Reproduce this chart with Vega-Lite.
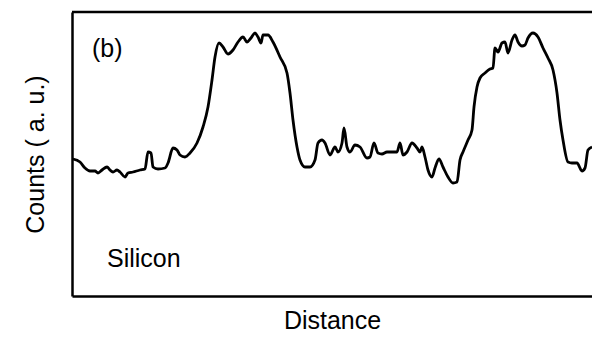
{
  "$schema": "https://vega.github.io/schema/vega-lite/v6.json",
  "width": 520,
  "height": 284,
  "autosize": {"type": "none"},
  "padding": {"left": 72, "top": 12, "right": 0, "bottom": 41},
  "config": {
    "view": {"stroke": null},
    "axis": {
      "domain": true, "domainColor": "black", "domainWidth": 2.5,
      "ticks": false, "labels": false, "grid": false,
      "titleFont": "Liberation Sans", "titleFontWeight": "normal", "titleColor": "black", "titleFontSize": 25
    }
  },
  "layer": [
    {
      "data": {"values": [
        {"distance": 1, "counts": 137}, {"distance": 8, "counts": 134}, {"distance": 13, "counts": 128},
        {"distance": 18, "counts": 125}, {"distance": 23, "counts": 125}, {"distance": 26, "counts": 123},
        {"distance": 30, "counts": 126}, {"distance": 35, "counts": 129}, {"distance": 38, "counts": 126},
        {"distance": 41, "counts": 124}, {"distance": 45, "counts": 126}, {"distance": 48, "counts": 124},
        {"distance": 53, "counts": 119}, {"distance": 56, "counts": 123}, {"distance": 61, "counts": 124},
        {"distance": 68, "counts": 126}, {"distance": 73, "counts": 127}, {"distance": 76, "counts": 144},
        {"distance": 79, "counts": 143}, {"distance": 81, "counts": 129}, {"distance": 86, "counts": 127},
        {"distance": 93, "counts": 128}, {"distance": 96, "counts": 133}, {"distance": 101, "counts": 148},
        {"distance": 105, "counts": 146}, {"distance": 108, "counts": 141}, {"distance": 113, "counts": 139},
        {"distance": 118, "counts": 143}, {"distance": 125, "counts": 153}, {"distance": 131, "counts": 169},
        {"distance": 136, "counts": 189}, {"distance": 140, "counts": 216}, {"distance": 143, "counts": 239},
        {"distance": 147, "counts": 253}, {"distance": 151, "counts": 249}, {"distance": 156, "counts": 242},
        {"distance": 161, "counts": 246}, {"distance": 166, "counts": 254}, {"distance": 171, "counts": 259},
        {"distance": 175, "counts": 254}, {"distance": 179, "counts": 258}, {"distance": 183, "counts": 263},
        {"distance": 186, "counts": 259}, {"distance": 189, "counts": 253}, {"distance": 191, "counts": 261},
        {"distance": 196, "counts": 261}, {"distance": 201, "counts": 254}, {"distance": 208, "counts": 239},
        {"distance": 215, "counts": 223}, {"distance": 218, "counts": 203}, {"distance": 221, "counts": 176},
        {"distance": 225, "counts": 149}, {"distance": 228, "counts": 136}, {"distance": 233, "counts": 129},
        {"distance": 238, "counts": 129}, {"distance": 243, "counts": 136}, {"distance": 246, "counts": 153},
        {"distance": 250, "counts": 156}, {"distance": 253, "counts": 153}, {"distance": 258, "counts": 141},
        {"distance": 263, "counts": 149}, {"distance": 266, "counts": 144}, {"distance": 270, "counts": 153},
        {"distance": 272, "counts": 168}, {"distance": 275, "counts": 149}, {"distance": 278, "counts": 144},
        {"distance": 283, "counts": 151}, {"distance": 288, "counts": 149}, {"distance": 295, "counts": 138},
        {"distance": 298, "counts": 139}, {"distance": 302, "counts": 153}, {"distance": 306, "counts": 143},
        {"distance": 310, "counts": 142}, {"distance": 315, "counts": 144}, {"distance": 325, "counts": 144},
        {"distance": 328, "counts": 153}, {"distance": 331, "counts": 141}, {"distance": 335, "counts": 144},
        {"distance": 340, "counts": 153}, {"distance": 345, "counts": 148}, {"distance": 348, "counts": 144},
        {"distance": 350, "counts": 149}, {"distance": 353, "counts": 139}, {"distance": 356, "counts": 126},
        {"distance": 360, "counts": 119}, {"distance": 363, "counts": 128}, {"distance": 367, "counts": 137},
        {"distance": 371, "counts": 129}, {"distance": 376, "counts": 119}, {"distance": 381, "counts": 113},
        {"distance": 385, "counts": 114}, {"distance": 388, "counts": 136}, {"distance": 391, "counts": 144},
        {"distance": 396, "counts": 156}, {"distance": 400, "counts": 166}, {"distance": 402, "counts": 189},
        {"distance": 405, "counts": 209}, {"distance": 408, "counts": 218}, {"distance": 413, "counts": 223},
        {"distance": 418, "counts": 227}, {"distance": 421, "counts": 228}, {"distance": 423, "counts": 248},
        {"distance": 426, "counts": 244}, {"distance": 430, "counts": 253}, {"distance": 433, "counts": 254},
        {"distance": 436, "counts": 243}, {"distance": 440, "counts": 256}, {"distance": 443, "counts": 261},
        {"distance": 446, "counts": 254}, {"distance": 450, "counts": 250}, {"distance": 453, "counts": 251},
        {"distance": 456, "counts": 258}, {"distance": 461, "counts": 263}, {"distance": 466, "counts": 259},
        {"distance": 471, "counts": 248}, {"distance": 476, "counts": 238}, {"distance": 481, "counts": 226},
        {"distance": 485, "counts": 203}, {"distance": 488, "counts": 176}, {"distance": 491, "counts": 156},
        {"distance": 496, "counts": 134}, {"distance": 500, "counts": 133}, {"distance": 505, "counts": 133},
        {"distance": 510, "counts": 125}, {"distance": 513, "counts": 128}, {"distance": 516, "counts": 146},
        {"distance": 520, "counts": 149}
      ]},
      "mark": {"type": "line", "color": "black", "strokeWidth": 2.8, "interpolate": "monotone"},
      "encoding": {
        "x": {"field": "distance", "type": "quantitative", "scale": {"domain": [0, 520], "nice": false, "zero": false},
              "axis": {"title": "Distance", "titlePadding": 12}},
        "y": {"field": "counts", "type": "quantitative", "scale": {"domain": [0, 284], "nice": false, "zero": false},
              "axis": {"title": "Counts ( a. u.)", "titlePadding": 24}}
      }
    },
    {
      "data": {"values": [{"edge": 284}]},
      "mark": {"type": "rule", "color": "black", "strokeWidth": 2.5},
      "encoding": {"y": {"field": "edge", "type": "quantitative"}}
    },
    {
      "data": {"values": [
        {"label": "(b)", "distance": 20, "counts": 239},
        {"label": "Silicon", "distance": 35, "counts": 29}
      ]},
      "mark": {"type": "text", "align": "left", "baseline": "alphabetic", "font": "Liberation Sans", "fontSize": 25, "color": "black"},
      "encoding": {
        "x": {"field": "distance", "type": "quantitative"},
        "y": {"field": "counts", "type": "quantitative"},
        "text": {"field": "label"}
      }
    }
  ]
}
